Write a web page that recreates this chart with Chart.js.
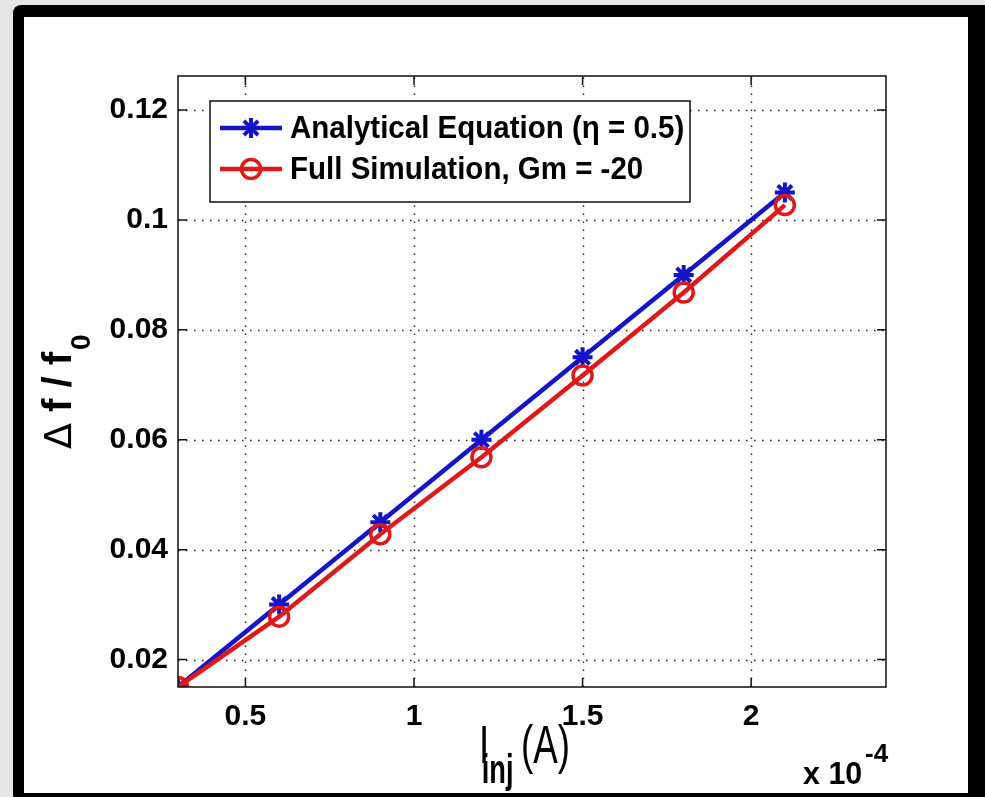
<!DOCTYPE html>
<html lang="en">
<head>
  <meta charset="UTF-8" />
  <title>Injection locking range</title>
  <script src="https://cdn.jsdelivr.net/npm/chart.js"></script>
  <style>
    html, body { margin: 0; padding: 0; background: #e6e6e6; }
    canvas { display: block; }
  </style>
</head>
<body>
  <canvas id="lockChart" width="985" height="797"></canvas>

  <script>
    // injection current, in units of 1e-4 A
    const injCurrent = [0.3, 0.6, 0.9, 1.2, 1.5, 1.8, 2.1];
    // relative frequency shift, analytical (eta = 0.5)
    const analytical = [0.015, 0.030, 0.045, 0.060, 0.075, 0.090, 0.105];
    // relative frequency shift, full simulation (Gm = -20)
    const simulation = [0.015, 0.0278, 0.0428, 0.0568, 0.0717, 0.0868, 0.1027];

    const xTicks = [0.5, 1, 1.5, 2];
    const yTicks = [0.02, 0.04, 0.06, 0.08, 0.1, 0.12];
    const seriesNames = ['Analytical Equation (\u03b7 = 0.5)', 'Full Simulation, Gm = -20'];

    const BLUE = '#1414c8';
    const RED = '#e01818';
    const FONT = '"Liberation Sans", Arial, sans-serif';

    const toPoints = (xs, ys) => xs.map((x, i) => ({ x: x, y: ys[i] }));

    // grey page, black frame and white paper
    const framePlugin = {
      id: 'frame',
      beforeDraw(chart) {
        const ctx = chart.ctx;
        ctx.save();
        ctx.fillStyle = '#e6e6e6';
        ctx.fillRect(0, 0, chart.width, chart.height);
        ctx.fillStyle = '#000';
        ctx.beginPath();
        ctx.roundRect(13, 5, chart.width - 13 + 20, chart.height, 8);
        ctx.fill();
        ctx.fillStyle = '#fff';
        ctx.fillRect(24, 17, 968 - 24, 793 - 17);
        ctx.restore();
      }
    };

    // dotted grid under the data
    const gridPlugin = {
      id: 'dotGrid',
      beforeDatasetsDraw(chart) {
        const { ctx, chartArea: a, scales } = chart;
        ctx.save();
        ctx.strokeStyle = '#222';
        ctx.lineWidth = 1.4;
        ctx.setLineDash([1.5, 6.5]);
        xTicks.forEach(v => {
          const px = Math.round(scales.x.getPixelForValue(v)) + 0.5;
          ctx.beginPath(); ctx.moveTo(px, a.bottom); ctx.lineTo(px, a.top); ctx.stroke();
        });
        yTicks.forEach(v => {
          const py = Math.round(scales.y.getPixelForValue(v)) + 0.5;
          ctx.beginPath(); ctx.moveTo(a.left, py); ctx.lineTo(a.right, py); ctx.stroke();
        });
        ctx.restore();
      }
    };

    function drawMarker(ctx, kind, x, y) {
      ctx.save();
      if (kind === 'star') {
        ctx.strokeStyle = BLUE;
        ctx.lineWidth = 4;
        for (let k = 0; k < 4; k++) {
          const ang = k * Math.PI / 4;
          ctx.beginPath();
          ctx.moveTo(x - 10 * Math.cos(ang), y - 10 * Math.sin(ang));
          ctx.lineTo(x + 10 * Math.cos(ang), y + 10 * Math.sin(ang));
          ctx.stroke();
        }
      } else {
        ctx.strokeStyle = RED;
        ctx.lineWidth = 3.5;
        ctx.beginPath();
        ctx.arc(x, y, 9.5, 0, Math.PI * 2);
        ctx.stroke();
      }
      ctx.restore();
    }

    // axes box, inward ticks, legend and titles
    const decorPlugin = {
      id: 'decor',
      afterDatasetsDraw(chart) {
        const { ctx, chartArea: a, scales } = chart;
        ctx.save();
        ctx.strokeStyle = '#111';
        ctx.lineWidth = 1.5;
        ctx.strokeRect(a.left, a.top, a.right - a.left, a.bottom - a.top);

        const tl = 9;
        ctx.beginPath();
        xTicks.forEach(v => {
          const px = scales.x.getPixelForValue(v);
          ctx.moveTo(px, a.bottom); ctx.lineTo(px, a.bottom - tl);
          ctx.moveTo(px, a.top); ctx.lineTo(px, a.top + tl);
        });
        yTicks.forEach(v => {
          const py = scales.y.getPixelForValue(v);
          ctx.moveTo(a.left, py); ctx.lineTo(a.left + tl, py);
          ctx.moveTo(a.right, py); ctx.lineTo(a.right - tl, py);
        });
        ctx.stroke();

        // legend
        const lx = 210, ly = 101, lw = 480, lh = 101;
        ctx.fillStyle = '#fff';
        ctx.fillRect(lx, ly, lw, lh);
        ctx.strokeStyle = '#111';
        ctx.lineWidth = 1.5;
        ctx.strokeRect(lx, ly, lw, lh);
        const rows = [
          { y: 128, color: BLUE, kind: 'star', text: seriesNames[0] },
          { y: 169, color: RED, kind: 'circle', text: seriesNames[1] }
        ];
        rows.forEach(r => {
          ctx.strokeStyle = r.color;
          ctx.lineWidth = 4.5;
          ctx.beginPath(); ctx.moveTo(220, r.y); ctx.lineTo(282, r.y); ctx.stroke();
          drawMarker(ctx, r.kind, 251, r.y);
          ctx.save();
          ctx.translate(290, r.y + 10);
          ctx.scale(1, 1.05);
          ctx.fillStyle = '#000';
          ctx.font = 'bold 29.5px ' + FONT;
          ctx.textBaseline = 'alphabetic';
          ctx.textAlign = 'left';
          ctx.fillText(r.text, 0, 0);
          ctx.restore();
        });

        // x title: I_inj (A)
        ctx.save();
        ctx.translate(479, 763);
        ctx.scale(0.68, 1);
        ctx.fillStyle = '#000';
        ctx.font = '54px ' + FONT;
        ctx.fillText('I', 0, 0);
        ctx.font = 'bold 40px ' + FONT;
        ctx.fillText('inj', 4, 20);
        const sw = ctx.measureText('inj').width;
        ctx.font = '54px ' + FONT;
        ctx.fillText(' (A)', sw, 0);
        ctx.restore();

        // y title: delta f / f0
        ctx.save();
        ctx.translate(71, 449);
        ctx.rotate(-Math.PI / 2);
        ctx.fillStyle = '#000';
        ctx.font = '38px "DejaVu Sans", sans-serif';
        ctx.fillText('\u0394', 0, 0);
        let off = ctx.measureText('\u0394').width;
        ctx.font = 'bold 40px ' + FONT;
        ctx.fillText(' f / f', off, 0);
        off += ctx.measureText(' f / f').width;
        ctx.font = 'bold 28px ' + FONT;
        ctx.fillText('0', off + 2, 19);
        ctx.restore();

        // exponent of the x axis
        ctx.fillStyle = '#000';
        ctx.textAlign = 'left';
        ctx.save();
        ctx.translate(803, 784);
        ctx.scale(1.05, 1.1);
        ctx.font = 'bold 29px ' + FONT;
        ctx.fillText('x 10', 0, 0);
        ctx.restore();
        ctx.font = 'bold 26px ' + FONT;
        ctx.fillText('-4', 865, 762);
        ctx.restore();
      }
    };

    new Chart(document.getElementById('lockChart').getContext('2d'), {
      type: 'scatter',
      data: {
        datasets: [
          {
            label: seriesNames[1],
            data: toPoints(injCurrent, simulation),
            showLine: true,
            borderColor: RED,
            borderWidth: 4.5,
            pointStyle: 'circle',
            pointRadius: 9.5,
            pointBorderWidth: 3.5,
            pointBorderColor: RED,
            pointBackgroundColor: 'rgba(0,0,0,0)',
            order: 1
          },
          {
            label: seriesNames[0],
            data: toPoints(injCurrent, analytical),
            showLine: true,
            borderColor: BLUE,
            borderWidth: 4.5,
            pointStyle: 'star',
            pointRadius: 10,
            pointBorderWidth: 4,
            pointBorderColor: BLUE,
            pointBackgroundColor: BLUE,
            order: 2
          }
        ]
      },
      options: {
        responsive: false,
        animation: false,
        devicePixelRatio: 1,
        layout: { padding: { left: 0, top: 76, right: 99, bottom: 0 } },
        plugins: {
          legend: { display: false },
          tooltip: { enabled: false }
        },
        scales: {
          x: {
            type: 'linear',
            min: 0.3,
            max: 2.4,
            afterBuildTicks: s => { s.ticks = xTicks.map(v => ({ value: v })); },
            afterFit: s => { s.height = 797 - 687; },
            grid: { display: false, drawTicks: false },
            border: { display: false },
            ticks: {
              color: '#000',
              padding: 12,
              font: { family: FONT, size: 30, weight: 'bold' },
              callback: v => String(v)
            }
          },
          y: {
            type: 'linear',
            min: 0.015,
            max: 0.1262,
            afterBuildTicks: s => { s.ticks = yTicks.map(v => ({ value: v })); },
            afterFit: s => { s.width = 178; },
            grid: { display: false, drawTicks: false },
            border: { display: false },
            ticks: {
              color: '#000',
              padding: 10,
              font: { family: FONT, size: 30, weight: 'bold' },
              callback: v => String(v)
            }
          }
        }
      },
      plugins: [framePlugin, gridPlugin, decorPlugin]
    });
  </script>
</body>
</html>
